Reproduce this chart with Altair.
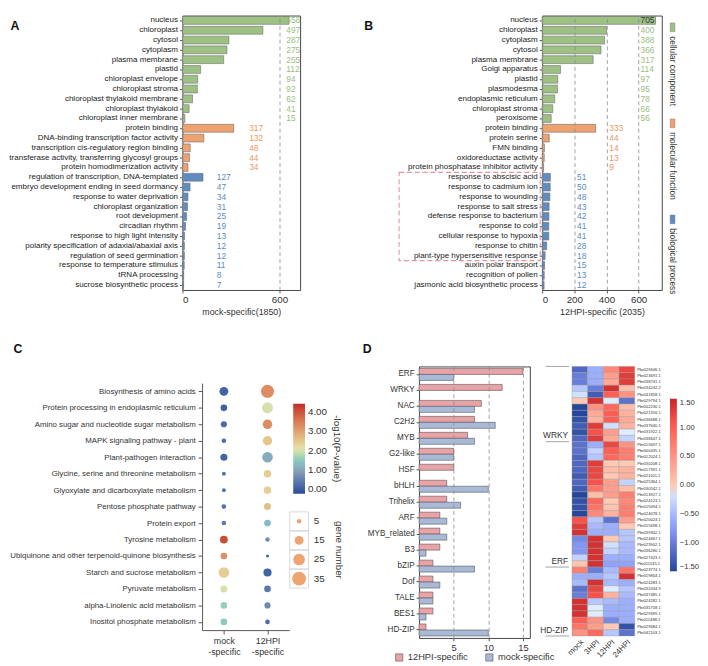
import altair as alt
import pandas as pd

FONT = "Liberation Sans"
INK = "#333333"
TICK = "#555555"

# ---------------- Panel A (mock-specific GO terms) ----------------
a_terms = ["nucleus", "chloroplast", "cytosol", "cytoplasm", "plasma membrane", "plastid",
           "chloroplast envelope", "chloroplast stroma", "chloroplast thylakoid membrane",
           "chloroplast thylakoid", "chloroplast inner membrane",
           "protein binding", "DNA-binding transcription factor activity",
           "transcription cis-regulatory region binding",
           "transferase activity, transferring glycosyl groups", "protein homodimerization activity",
           "regulation of transcription, DNA-templated", "embryo development ending in seed dormancy",
           "response to water deprivation", "chloroplast organization", "root development",
           "circadian rhythm", "response to high light intensity",
           "polarity specification of adaxial/abaxial axis", "regulation of seed germination",
           "response to temperature stimulus", "tRNA processing", "sucrose biosynthetic process"]
a_counts = [658, 497, 287, 275, 255, 112, 94, 92, 62, 41, 15,
            317, 132, 48, 44, 34,
            127, 47, 34, 31, 25, 19, 13, 12, 12, 11, 8, 7]
a_groups = ["cellular component"] * 11 + ["molecular function"] * 5 + ["biological process"] * 12

# ---------------- Panel B (12HPI-specific GO terms) ----------------
b_terms = ["nucleus", "chloroplast", "cytoplasm", "cytosol", "plasma membrane", "Golgi apparatus",
           "plastid", "plasmodesma", "endoplasmic reticulum", "chloroplast stroma", "peroxisome",
           "protein binding", "protein serine", "FMN binding", "oxidoreductase activity",
           "protein phosphatase inhibitor activity",
           "response to abscisic acid", "response to cadmium ion", "response to wounding",
           "response to salt stress", "defense response to bacterium", "response to cold",
           "cellular response to hypoxia", "response to chitin", "plant-type hypersensitive response",
           "auxin polar transport", "recognition of pollen", "jasmonic acid biosynthetic process"]
b_counts = [705, 400, 388, 366, 317, 114, 97, 95, 78, 66, 56,
            333, 44, 14, 13, 9,
            51, 50, 48, 43, 42, 41, 41, 28, 18, 15, 13, 12]
b_groups = ["cellular component"] * 11 + ["molecular function"] * 5 + ["biological process"] * 12
b_box_rows = [16, 25]   # highlighted block: response to abscisic acid .. plant-type hypersensitive response

go_groups = ["cellular component", "molecular function", "biological process"]
go_fill = ["#9DC183", "#EDA26F", "#5F8DC2"]
go_text = ["#9BBE80", "#E8995F", "#5A8BBE"]

# ---------------- Panel C (KEGG bubble) ----------------
c_paths = ["Biosynthesis of amino acids", "Protein processing in endoplasmic reticulum",
           "Amino sugar and nucleotide sugar metabolism", "MAPK signaling pathway - plant",
           "Plant-pathogen interaction", "Glycine, serine and threonine metabolism",
           "Glyoxylate and dicarboxylate metabolism", "Pentose phosphate pathway", "Protein export",
           "Tyrosine metabolism", "Ubiquinone and other terpenoid-quinone biosynthesis",
           "Starch and sucrose metabolism", "Pyruvate metabolism",
           "alpha-Linolenic acid metabolism", "Inositol phosphate metabolism"]
c_groups = ["mock -specific", "12HPI -specific"]
c_p_mock = [0.10, 0.05, 0.20, 0.20, 0.10, 0.30, 0.30, 0.30, 0.40, 4.10, 3.30, 2.40, 2.00, 1.60, 1.50]
c_p_12 = [3.30, 2.00, 3.30, 2.50, 1.10, 2.40, 2.40, 2.60, 1.30, 0.70, 0.20, 0.10, 0.40, 0.60, 0.20]
c_n_mock = [15, 9, 8, 5, 10, 4, 4, 5, 5, 12, 9, 21, 10, 9, 9]
c_n_12 = [31, 22, 17, 17, 21, 11, 11, 10, 9, 5, 3, 13, 9, 8, 5]
c_size_keys = [5, 15, 25, 35]

# ---------------- Panel D (TF families) ----------------
d_tfs = ["ERF", "WRKY", "NAC", "C2H2", "MYB", "G2-like", "HSF", "bHLH", "Trihelix", "ARF",
         "MYB_related", "B3", "bZIP", "Dof", "TALE", "BES1", "HD-ZIP"]
d_12 = [15, 12, 9, 8, 7, 5, 5, 4, 4, 3, 3, 3, 2, 2, 2, 2, 1]
d_mock = [5, 0, 8, 11, 8, 5, 0, 10, 6, 4, 4, 1, 8, 3, 2, 1, 10]
d_series = ["12HPI-specific", "mock-specific"]

# ---------------- Panel D heatmap ----------------
h_genes = ["Pbr029646.1", "Pbr023691.1", "Pbr038741.1", "Pbr034242.2", "Pbr041858.1", "Pbr029794.1",
           "Pbr002230.1", "Pbr021316.1", "Pbr036688.1", "Pbr037640.1", "Pbr031922.1", "Pbr038647.1",
           "Pbr015697.1", "Pbr000435.1", "Pbr012024.1", "Pbr030208.1", "Pbr017391.1", "Pbr021011.1",
           "Pbr025364.1", "Pbr030542.1", "Pbr013927.1", "Pbr024123.1", "Pbr019494.1", "Pbr024078.1",
           "Pbr020024.1", "Pbr015698.1", "Pbr039302.1", "Pbr024467.1", "Pbr023902.1", "Pbr036280.1",
           "Pbr027423.1", "Pbr011145.1", "Pbr023774.1", "Pbr019804.1", "Pbr024283.1", "Pbr032434.9",
           "Pbr037485.1", "Pbr024282.1", "Pbr035758.1", "Pbr029399.1", "Pbr011488.1", "Pbr029684.1",
           "Pbr042103.1"]
h_times = ["mock", "3HPI", "12HPI", "24HPI"]
z_mock = [-1.2, -1.0, -1.0, -0.4, -0.2, 0.0, -1.5, -1.5, -1.4, -1.3, -1.4, -1.2, -1.1, -1.1, -1.2,
          -1.2, -1.2, -1.3, -1.2, -1.3, -1.5, -1.4, -1.4, -1.5, 1.1, 1.3, 1.4, -0.9, -0.8, -0.8,
          -0.3, 0.05, 0.7, -0.6, -0.5, -1.1, -1.0, 1.4, 1.4, 1.4, 1.0, 0.8, 0.5]
z_3h = [-0.6, -0.6, -0.6, -1.0, -1.3, 1.4, 0.5, 0.3, 0.2, 1.3, 1.1, 1.3, -0.6, -0.3, -0.4,
        1.3, 1.2, 1.2, 1.1, 0.8, 0.1, 0.9, 0.8, 0.6, -0.4, -0.5, -0.6, 1.4, 1.4, 1.4,
        1.4, 1.4, -1.0, -0.6, 1.4, 1.2, 1.1, -0.4, -0.1, -0.1, 0.5, 0.4, 0.9]
z_12h = [0.6, 0.4, 0.3, 1.4, 1.0, -0.1, 0.9, 1.0, 1.0, -0.2, 0.4, 0.3, 1.2, 1.0, 0.9,
         0.0, 0.1, 0.0, 0.4, 0.4, 0.4, 0.0, 0.05, 0.2, -1.1, -0.6, -0.6, 0.0, -0.2, -0.3,
         -0.6, -0.7, -0.5, -0.4, -0.5, -0.1, 0.2, -0.5, -0.6, -0.6, -0.9, 0.0, -0.4]
z_24h = [1.2, 1.3, 1.3, 0.1, 0.5, -1.1, 0.1, 0.2, 0.3, 0.2, -0.1, -0.3, 0.5, 0.7, 0.7,
         0.0, 0.2, 0.2, -0.3, 0.1, 0.7, 0.6, 0.7, 0.7, 0.4, 0.0, -0.4, -0.4, -0.5, -0.5,
         -0.6, -0.7, 0.8, 1.4, -0.6, -0.4, -0.5, -0.6, -0.6, -0.6, -0.6, -1.4, -1.1]
h_family = ["WRKY", "ERF", "HD-ZIP"]
h_family_end = [12, 32, 43]
h_family_edges = [0, 12, 32, 43]


def go_panel(terms, counts, groups, axis_title, letter, letter_x, label_x, xmax, width, box_rows=None):
    H = 280
    n = len(terms)
    df = pd.DataFrame({"term": terms, "count": counts, "grp": groups})
    df["lx"] = [label_x[g] for g in groups]
    xscale = alt.Scale(domain=[0, xmax], nice=False, zero=True)
    yscale = alt.Scale(domain=terms, paddingInner=0.2, paddingOuter=0.1)
    bars = alt.Chart(df).mark_bar(stroke="#6e6e6e", strokeWidth=0.6).encode(
        x=alt.X("count:Q", scale=xscale,
                axis=alt.Axis(values=[0, 200, 400, 600], title=axis_title, grid=True, gridDash=[4, 3],
                              gridColor="#8a8a8a", gridWidth=0.8, zindex=1, domain=False, tickSize=3,
                              tickColor=TICK, labelFontSize=10, labelColor=INK, labelPadding=2,
                              titleFontSize=9, titleFontWeight="normal", titleColor=INK, titlePadding=3)),
        y=alt.Y("term:N", scale=yscale,
                axis=alt.Axis(title=letter, titleAngle=0, titleX=letter_x, titleY=4, titleAlign="left",
                              titleBaseline="top", titleFontSize=12.5, titleFontWeight="bold",
                              titleColor="#111", labelFontSize=8.2, labelColor="#222", labelLimit=400,
                              labelPadding=2, tickSize=3, tickColor=TICK, domain=False)),
        color=alt.Color("grp:N", scale=alt.Scale(domain=go_groups, range=go_fill), legend=None),
    )
    txt = alt.Chart(df).mark_text(align="left", baseline="middle", dx=2, fontSize=8.5).encode(
        x=alt.X("lx:Q", scale=xscale, title=axis_title),
        y=alt.Y("term:N", scale=yscale, axis=None),
        text="count:Q",
        color=alt.condition("datum.count > 680", alt.value("#3a3a3a"),
                            alt.Color("grp:N", scale=alt.Scale(domain=go_groups, range=go_text), legend=None)),
    )
    layers = [bars, txt]
    if box_rows is not None:
        bdf = pd.DataFrame({"r0": [box_rows[0]], "r1": [box_rows[1]]})
        box = alt.Chart(bdf).mark_rect(fillOpacity=0, stroke="#E8939A", strokeDash=[5, 3], strokeWidth=1.1).encode(
            y=alt.Y("r0:Q", scale=alt.Scale(domain=[0, n], range=[0, H]), axis=None),
            y2="r1:Q",
            x=alt.value(-146),
            x2=alt.value(-2),
        )
        layers.append(box)
    return alt.layer(*layers).resolve_scale(y="independent", color="independent").properties(
        width=width, height=H, view=alt.ViewBackground(stroke="#444", strokeWidth=1))


A = go_panel(a_terms, a_counts, a_groups, "mock-specific(1850)", "A", -176,
             {"cellular component": 630, "molecular function": 400, "biological process": 200}, 727, 120)
B = go_panel(b_terms, b_counts, b_groups, "12HPI-specific (2035)", "B", -182,
             {"cellular component": 600, "molecular function": 405, "biological process": 205}, 744, 122,
             box_rows=b_box_rows)

# custom rotated legend for B
leg_df = pd.DataFrame({"grp": go_groups, "k": [0, 1, 2]})
leg_y = alt.Scale(domain=[0, 2], range=[12, 208])
leg_sq = alt.Chart(leg_df).mark_point(shape="M-0.55,-1H0.55V1H-0.55Z", filled=True, size=81, opacity=1,
                                      stroke="#777", strokeWidth=0.4).encode(
    x=alt.value(7), y=alt.Y("k:Q", scale=leg_y, axis=None),
    color=alt.Color("grp:N", scale=alt.Scale(domain=go_groups, range=go_fill), legend=None))
leg_tx = alt.Chart(leg_df).mark_text(angle=90, align="left", baseline="middle", dx=9, fontSize=8.5,
                                     color=INK).encode(
    x=alt.value(7), y=alt.Y("k:Q", scale=leg_y, axis=None), text="grp:N")
legB = alt.layer(leg_sq, leg_tx).properties(width=12, height=280)

# ---------------- C ----------------
cdf = pd.DataFrame({
    "pathway": c_paths * 2,
    "grp": [c_groups[0]] * len(c_paths) + [c_groups[1]] * len(c_paths),
    "p": c_p_mock + c_p_12,
    "n": c_n_mock + c_n_12,
})
size_scale = alt.Scale(domain=[5, 35], range=[22, 201], zero=False)
c_pts = alt.Chart(cdf).mark_circle(opacity=1).encode(
    x=alt.X("grp:N", scale=alt.Scale(type="point", domain=c_groups, padding=0.5, range=[20, 109]),
            axis=alt.Axis(title=None, labelExpr="split(datum.label, ' ')", labelAngle=0, labelFontSize=9,
                          labelColor=INK, domainColor=TICK, tickColor=TICK, tickSize=4, labelPadding=3,
                          labelLineHeight=11)),
    y=alt.Y("pathway:N", scale=alt.Scale(type="point", domain=c_paths, padding=0.5, range=[17, 269]),
            axis=alt.Axis(title="C", offset=-20, titleAngle=0, titleX=-193, titleY=-24, titleAlign="left",
                          titleBaseline="top", titleFontSize=12.5, titleFontWeight="bold", titleColor="#111",
                          labelFontSize=8.0, labelColor=INK, labelLimit=400, labelPadding=3, tickSize=4,
                          tickColor=TICK, domainColor=TICK)),
    size=alt.Size("n:Q", scale=size_scale, legend=None),
    color=alt.Color("p:Q", scale=alt.Scale(domain=[-0.25, 0.93, 2.1, 3.28, 4.45],
                                           range=["#2A4A9A", "#8C9FB8", "#E8E2AE", "#DE8D62", "#C1272D"]),
                    legend=alt.Legend(orient="none", legendX=113, legendY=38, direction="vertical",
                                      gradientLength=92, gradientThickness=12, title="-log10(P-value)",
                                      titleOrient="right", titleAnchor="middle", titleFontSize=10,
                                      titleFontWeight="normal", titleColor=INK, labelFontSize=10,
                                      labelColor=INK, values=[0, 1, 2, 3, 4], format=".2f", labelOffset=3,
                                      titlePadding=6, gradientStrokeWidth=0, padding=0)),
)
# hand-built size key (gene number)
sk_df = pd.DataFrame({"n": c_size_keys, "k": [0, 1, 2, 3]})
sk_y = alt.Scale(domain=[0, 3], range=[158, 216.5])
sk_box = alt.Chart(sk_df).mark_square(size=370, filled=False, color="#cfcfcf", strokeWidth=0.8, opacity=1).encode(
    x=alt.value(119), y=alt.Y("k:Q", scale=sk_y, axis=None))
sk_dot = alt.Chart(sk_df).mark_circle(color="#EFA46F", opacity=1).encode(
    x=alt.value(119), y=alt.Y("k:Q", scale=sk_y, axis=None), size=alt.Size("n:Q", scale=size_scale, legend=None))
sk_lab = alt.Chart(sk_df).mark_text(align="left", baseline="middle", fontSize=10, color=INK).encode(
    x=alt.value(134), y=alt.Y("k:Q", scale=sk_y, axis=None), text="n:Q")
sk_title_df = pd.DataFrame({"t": ["gene number"], "k": [1.5]})
sk_title = alt.Chart(sk_title_df).mark_text(angle=90, align="center", baseline="middle", fontSize=10,
                                            color=INK).encode(
    x=alt.value(160), y=alt.Y("k:Q", scale=sk_y, axis=None), text="t:N")
C = alt.layer(c_pts, sk_box, sk_dot, sk_lab, sk_title).resolve_scale(y="independent").properties(
    width=109, height=269)

# ---------------- D bars ----------------
ddf = pd.DataFrame({
    "tf": d_tfs * 2,
    "grp": [d_series[0]] * len(d_tfs) + [d_series[1]] * len(d_tfs),
    "v": d_12 + d_mock,
})
ddf = ddf[ddf["v"] > 0]
Dbars = alt.Chart(ddf).mark_bar(stroke="#555", strokeWidth=0.6).encode(
    x=alt.X("v:Q", scale=alt.Scale(domain=[0, 16], nice=False),
            axis=alt.Axis(values=[5, 10, 15], title=None, grid=True, gridDash=[4, 3], gridColor="#8a8a8a",
                          gridWidth=0.8, zindex=1, domain=False, tickSize=3, tickColor=TICK,
                          labelFontSize=9.5, labelColor=INK, labelPadding=2)),
    y=alt.Y("tf:N", scale=alt.Scale(domain=d_tfs, paddingInner=0.25, paddingOuter=0.125),
            axis=alt.Axis(title="D", titleAngle=0, titleX=-58, titleY=-24, titleAlign="left",
                          titleBaseline="top", titleFontSize=12.5, titleFontWeight="bold", titleColor="#111",
                          labelFontSize=8.3, labelColor=INK, labelPadding=2, tickSize=3, tickColor=TICK,
                          domain=False)),
    yOffset=alt.YOffset("grp:N", scale=alt.Scale(domain=d_series, paddingInner=0, paddingOuter=0)),
    color=alt.Color("grp:N", scale=alt.Scale(domain=d_series, range=["#E9A3A7", "#A9BAD9"]),
                    legend=alt.Legend(orient="none", legendX=-25, legendY=292, direction="horizontal",
                                      title=None, symbolType="square", symbolSize=55,
                                      symbolStrokeColor="#555", symbolStrokeWidth=0.6, labelFontSize=9.5,
                                      labelColor=INK, columnPadding=16, labelOffset=4, padding=0)),
).properties(width=113, height=277, view=alt.ViewBackground(stroke="#444", strokeWidth=1))

# ---------------- D heatmap ----------------
hrows = []
for t, zs in zip(h_times, [z_mock, z_3h, z_12h, z_24h]):
    for g, z in zip(h_genes, zs):
        hrows.append({"gene": g, "time": t, "z": z})
hdf = pd.DataFrame(hrows)
HH = 275
hrect = alt.Chart(hdf).mark_rect(stroke="#9a9a9a", strokeWidth=0.4).encode(
    x=alt.X("time:N", scale=alt.Scale(domain=h_times, paddingInner=0, paddingOuter=0),
            axis=alt.Axis(title=None, labelAngle=-45, labelFontSize=8, labelColor=INK, domain=False,
                          ticks=False, labelPadding=2)),
    y=alt.Y("gene:N", scale=alt.Scale(domain=h_genes, paddingInner=0, paddingOuter=0),
            axis=alt.Axis(orient="right", title=None, labelFontSize=4.2, labelColor=INK, ticks=False,
                          domain=False, labelPadding=2)),
    color=alt.Color("z:Q", scale=alt.Scale(domain=[-1.5, 0, 1.5], range=["#24479B", "#FFFFFF", "#C8232A"]),
                    legend=alt.Legend(orient="none", legendX=100, legendY=33, direction="vertical",
                                      gradientLength=176, gradientThickness=7, title=None,
                                      values=[-1.5, -1.0, -0.5, 0, 0.5, 1.0, 1.5], format=".2f",
                                      labelFontSize=7.8, labelColor=INK, labelOffset=3,
                                      gradientStrokeWidth=0, padding=0)),
)
edge_df = pd.DataFrame({"b": h_family_edges})
fam_df = pd.DataFrame({"fam": h_family, "end": h_family_end})
fam_scale = alt.Scale(domain=[0, len(h_genes)], range=[0, HH])
hrule = alt.Chart(edge_df).mark_rule(color="#8a8a8a", strokeWidth=0.8).encode(
    y=alt.Y("b:Q", scale=fam_scale, axis=None), x=alt.value(-27), x2=alt.value(-3))
htext = alt.Chart(fam_df).mark_text(align="right", baseline="bottom", dy=-1.5, fontSize=8.5, color=INK).encode(
    y=alt.Y("end:Q", scale=fam_scale, axis=None), x=alt.value(-4), text="fam:N")
Heat = alt.layer(hrect, hrule, htext).resolve_scale(y="independent").properties(width=64, height=HH)

row1 = alt.hconcat(A, alt.hconcat(B, legB, spacing=4, bounds="flush"), spacing=247, bounds="flush")
row2 = alt.hconcat(C, alt.hconcat(Dbars, Heat, spacing=43, bounds="flush"), spacing=132.4, bounds="flush")

chart = alt.vconcat(row1, row2, spacing=25, bounds="full").properties(padding=0).configure(
    font=FONT).configure_view(stroke=None)

chart.save("out.html", embed_options={"renderer": "svg", "actions": False})
